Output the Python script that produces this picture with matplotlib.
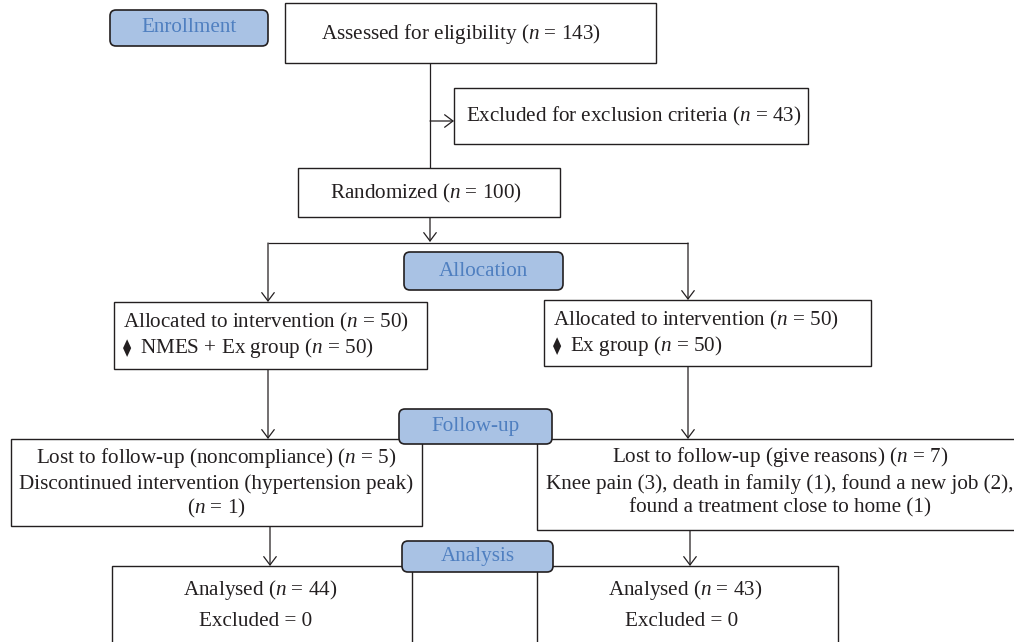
import matplotlib
matplotlib.use("Agg")
import matplotlib.pyplot as plt
from matplotlib.patches import Rectangle, FancyBboxPatch, FancyArrowPatch, ArrowStyle

plt.rcParams['font.family'] = ['Liberation Serif', 'DejaVu Serif']
plt.rcParams['mathtext.fontset'] = 'custom'
plt.rcParams['mathtext.rm'] = 'Liberation Serif'
plt.rcParams['mathtext.it'] = 'Liberation Serif:italic'

# counts
stages = ["Enrollment", "Allocation", "Follow-up", "Analysis"]
assessed = 143
excluded = 43
randomized = 100
groups = ["NMES + Ex group", "Ex group"]
allocated = [50, 50]
lost = [5, 7]
discontinued = 1
reasons = ["Knee pain", "death in family", "found a new job", "found a treatment close to home"]
reason_counts = [3, 1, 2, 1]
analysed = [44, 43]
excl_analysis = [0, 0]

INK = '#231f20'
PILL_FILL = '#a9c2e4'
PILL_TEXT = '#4f7fc0'
FS = 15.2

fig = plt.figure(figsize=(10.14, 6.42), dpi=100)
ax = fig.add_axes([0, 0, 1, 1])
ax.set_xlim(0, 1014)
ax.set_ylim(642, 0)
ax.axis('off')


def box(x0, x1, y0, y1):
    ax.add_patch(Rectangle((x0, y0), x1 - x0, y1 - y0, fc='white', ec=INK, lw=1.0, zorder=2))


def pill(x0, x1, y0, y1, s):
    ax.add_patch(FancyBboxPatch((x0, y0), x1 - x0, y1 - y0,
                                boxstyle="round,pad=0,rounding_size=6",
                                fc=PILL_FILL, ec=INK, lw=1.2, zorder=4))
    ax.text((x0 + x1) / 2, (y0 + y1) / 2, s, ha='center', va='center',
            color=PILL_TEXT, fontsize=FS, zorder=5)


def txt(x, y, s, ha='center', fs=FS):
    ax.text(x, y, s, ha=ha, va='center', color=INK, fontsize=fs, zorder=3)


def line(x0, y0, x1, y1):
    ax.plot([x0, x1], [y0, y1], color=INK, lw=0.9, zorder=1, solid_capstyle='butt')


def arrow(x0, y0, x1, y1):
    ax.add_patch(FancyArrowPatch((x0, y0), (x1, y1),
                                 arrowstyle=ArrowStyle('->', head_length=0.6, head_width=0.45),
                                 mutation_scale=10, color=INK, lw=0.9,
                                 shrinkA=0, shrinkB=0, zorder=1))


# enrollment
pill(110, 268, 10, 46, stages[0])
box(285, 656, 3, 63)
txt(461, 34, f"Assessed for eligibility ($n$ = {assessed})")
line(430, 63, 430, 168)
arrow(430, 121, 454, 121)
box(454, 808, 88, 144)
txt(634, 116, f"Excluded for exclusion criteria ($n$ = {excluded})")
box(298, 560, 168, 217)
txt(426, 193, f"Randomized ($n$ = {randomized})")
arrow(430, 217, 430, 242)
line(268, 243, 688, 243)

# allocation
pill(404, 563, 252, 290, stages[1])
arrow(268, 243, 268, 302)
arrow(688, 243, 688, 300)
alloc_boxes = [(114, 427, 302, 369), (544, 871, 300, 366)]
for (x0, x1, y0, y1), g, a, n in zip(alloc_boxes, groups, allocated, allocated):
    box(x0, x1, y0, y1)
    txt(x0 + 9, y0 + 20, f"Allocated to intervention ($n$ = {a})", ha='left')
    ax.text(x0 + 9, y0 + 46, "\u29eb", ha='left', va='center', color=INK,
            fontsize=12, family=['DejaVu Sans', 'DejaVu Serif'], zorder=3)
    txt(x0 + 26, y0 + 46, f"{g} ($n$ = {n})", ha='left')

# follow-up
arrow(268, 369, 268, 439)
arrow(688, 366, 688, 439)
box(11, 422, 439, 526)
txt(216, 458, f"Lost to follow-up (noncompliance) ($n$ = {lost[0]})")
txt(216, 484, "Discontinued intervention (hypertension peak)")
txt(216, 508, f"($n$ = {discontinued})")
box(537, 1024, 439, 530)
items = [f"{r} ({c})" for r, c in zip(reasons, reason_counts)]
txt(780, 457, f"Lost to follow-up (give reasons) ($n$ = {lost[1]})")
txt(780, 484, ", ".join(items[:3]) + ",")
txt(780, 508, items[3])
pill(399, 552, 409, 444, stages[2])

# analysis
arrow(270, 526, 270, 566)
arrow(690, 530, 690, 566)
an_boxes = [(112, 412), (537, 838)]
for (x0, x1), a, e in zip(an_boxes, analysed, excl_analysis):
    box(x0, x1, 566, 660)
    txt((x0 + x1) / 2 - 2, 590, f"Analysed ($n$ = {a})")
    txt((x0 + x1) / 2 - 6, 622, f"Excluded = {e}")
pill(402, 553, 541, 572, stages[3])

fig.savefig("out.png", dpi=100)
